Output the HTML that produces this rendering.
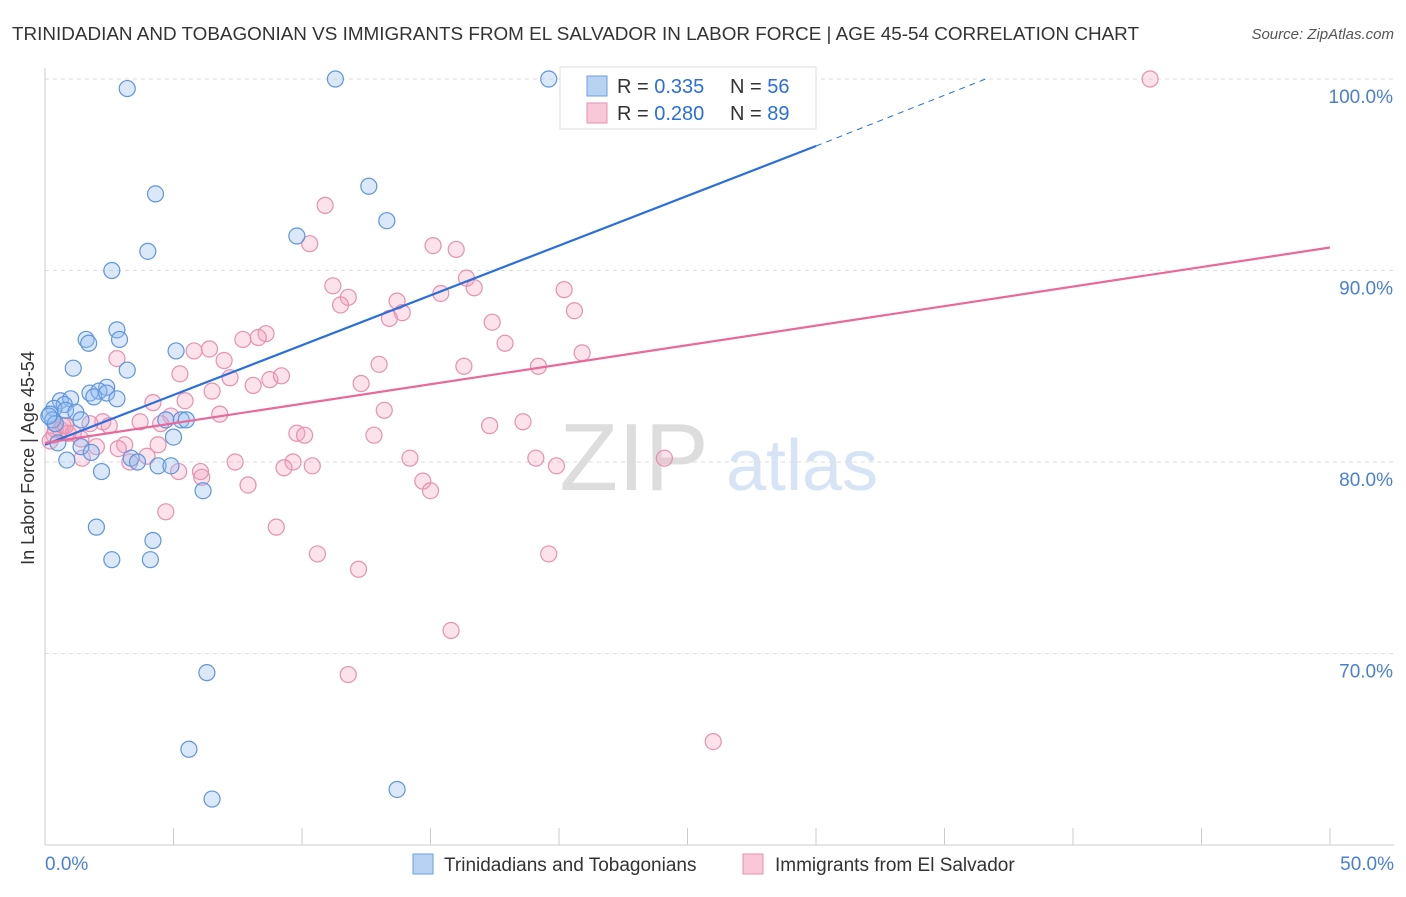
<!DOCTYPE html>
<html><head><meta charset="utf-8"><style>
body{margin:0;background:#fff;font-family:"Liberation Sans",sans-serif;}
svg text{font-family:"Liberation Sans",sans-serif;}
</style></head><body>
<svg id="c" width="1406" height="892" xmlns="http://www.w3.org/2000/svg">
<text x="12" y="40" font-size="18" fill="#333" textLength="1127" lengthAdjust="spacingAndGlyphs">TRINIDADIAN AND TOBAGONIAN VS IMMIGRANTS FROM EL SALVADOR IN LABOR FORCE | AGE 45-54 CORRELATION CHART</text>
<text x="1394" y="39" font-size="15" fill="#555" font-style="italic" text-anchor="end">Source: ZipAtlas.com</text>
<text x="634" y="490" font-size="96" fill="#ddd" font-family="Liberation Serif" text-anchor="middle">ZIP</text>
<text x="802" y="490" font-size="72" fill="#d6e4f5" text-anchor="middle">atlas</text>
<g id="grid"></g><g id="axes"></g><g id="pts"></g><g id="lines"></g>
<text x="34" y="458" font-size="18" fill="#333" text-anchor="middle" transform="rotate(-90 34 458)">In Labor Force | Age 45-54</text>
<text x="45" y="870" font-size="19" fill="#4a7fd6">0.0%</text>
<text x="1394" y="870" font-size="19" fill="#4a7fd6" text-anchor="end">50.0%</text>
<g>
<rect x="560" y="67" width="256" height="62" fill="#fff" stroke="#ddd"/>
<rect x="587" y="76" width="20" height="20" fill="#b8d2f4" stroke="#6a9fe0"/>
<text x="617" y="93" font-size="20" fill="#333">R = <tspan fill="#2a6fdb">0.335</tspan></text>
<text x="730" y="93" font-size="20" fill="#333">N = <tspan fill="#2a6fdb">56</tspan></text>
<rect x="587" y="103" width="20" height="20" fill="#f8c8d8" stroke="#e890b0"/>
<text x="617" y="120" font-size="20" fill="#333">R = <tspan fill="#2a6fdb">0.280</tspan></text>
<text x="730" y="120" font-size="20" fill="#333">N = <tspan fill="#2a6fdb">89</tspan></text>
</g>
<g>
<rect x="413" y="854" width="20" height="20" fill="#b8d2f4" stroke="#6a9fe0"/>
<text x="444" y="871" font-size="19" fill="#333">Trinidadians and Tobagonians</text>
<rect x="743" y="854" width="20" height="20" fill="#f8c8d8" stroke="#e890b0"/>
<text x="775" y="871" font-size="19" fill="#333">Immigrants from El Salvador</text>
</g>
</svg>
<script>
const yTicks=[100,90,80,70];
const xTicks=[0,5,10,15,20,25,30,35,40,45,50];
const blueX=[3.2,11.3,19.6,4.3,12.6,13.3,9.8,4.0,2.6,1.6,1.7,2.8,2.9,5.1,1.1,3.2,2.4,1.75,2.1,1.9,2.4,2.8,0.6,1.0,0.75,0.35,0.8,1.2,0.2,0.3,0.4,1.4,4.7,5.3,5.5,5.0,0.5,1.4,1.8,0.85,3.35,3.6,4.4,4.9,2.2,6.15,2.0,4.2,2.6,4.1,6.3,5.6,6.5,13.7,28.2,0.15];
const blueY=[99.5,100,100,94.0,94.4,92.6,91.8,91.0,90.0,86.4,86.2,86.9,86.4,85.8,84.9,84.8,83.9,83.6,83.7,83.4,83.6,83.3,83.2,83.3,83.0,82.8,82.7,82.6,82.5,82.2,82.0,82.2,82.2,82.2,82.2,81.3,81.0,80.8,80.5,80.1,80.2,80.0,79.8,79.8,79.5,78.5,76.6,75.9,74.9,74.9,69.0,65.0,62.4,62.9,100,82.4];
const pinkX=[43.0,10.9,10.3,15.1,16.0,16.4,16.7,11.2,11.8,11.5,13.7,13.9,13.4,15.4,20.2,20.6,17.4,17.9,20.9,8.6,8.3,7.7,6.4,5.8,6.97,2.8,5.25,7.2,8.75,9.2,6.5,8.1,12.3,13.0,16.3,19.2,4.2,5.45,6.8,4.9,2.25,2.5,3.7,4.5,13.2,18.6,17.3,9.8,10.1,12.8,0.6,0.9,0.35,1.4,2.0,3.1,4.4,2.85,3.97,1.45,5.2,6.05,6.1,7.4,9.65,9.3,10.4,14.2,19.1,19.9,24.1,14.7,15.0,7.9,4.7,9.0,10.6,19.6,12.2,15.8,11.8,26.0,0.4,0.7,1.75,3.3,0.2,1.1,0.8];
const pinkY=[100,93.4,91.4,91.3,91.1,89.6,89.1,89.2,88.6,88.2,88.4,87.8,87.5,88.8,89.0,87.9,87.3,86.2,85.7,86.7,86.5,86.4,85.9,85.8,85.3,85.4,84.6,84.4,84.3,84.5,83.7,84.0,84.1,85.1,85.0,85.0,83.1,83.2,82.5,82.4,82.1,81.9,82.1,82.0,82.7,82.1,81.9,81.5,81.4,81.4,81.7,81.5,81.4,81.2,80.8,80.9,80.9,80.7,80.3,80.2,79.5,79.5,79.2,80.0,80.0,79.7,79.8,80.2,80.2,79.8,80.2,79.0,78.5,78.8,77.4,76.6,75.2,75.2,74.4,71.2,68.9,65.4,81.7,81.9,82.0,80.0,81.1,81.5,81.9];
const blueLine=[[0,80.9],[30,96.5]], blueDash=[[30,96.5],[36.6,100]];
const pinkLine=[[0,81.0],[50,91.2]];
const NS='http://www.w3.org/2000/svg';
const X=v=>45+v/50*1285, Y=v=>79+(100-v)/10*191.5;
function mk(t,a,p){const e=document.createElementNS(NS,t);for(const k in a)e.setAttribute(k,a[k]);document.getElementById(p).appendChild(e);return e;}
yTicks.forEach(t=>{
 const l=mk('line',{x1:45,x2:1394,y1:Y(t),y2:Y(t),stroke:'#ddd','stroke-dasharray':'4 4'},'grid');
 
 
 const tx=mk('text',{x:1393,y:Y(t)+24,'font-size':19,fill:'#4a7fd6','text-anchor':'end'},'grid');tx.textContent=t.toFixed(1)+'%';
 
 
});
const ax=mk('line',{x1:45,x2:45,y1:68,y2:845,stroke:'#ccc'},'axes');


const bx=mk('line',{x1:45,x2:1394,y1:845,y2:845,stroke:'#ccc'},'axes');


xTicks.forEach(t=>{const l=mk('line',{x1:X(t),x2:X(t),y1:828,y2:845,stroke:'#ccc'},'axes');
 
 });
pinkX.forEach((v,i)=>{const c=mk('circle',{cx:X(v),cy:Y(pinkY[i]),r:8,fill:'rgba(242,160,190,0.3)',stroke:'#e890b0','stroke-width':1.2},'pts');
 
 });
blueX.forEach((v,i)=>{const c=mk('circle',{cx:X(v),cy:Y(blueY[i]),r:8,fill:'rgba(150,190,240,0.35)',stroke:'#5f95dd','stroke-width':1.2},'pts');
 
 });
const b=mk('line',{x1:X(blueLine[0][0]),y1:Y(blueLine[0][1]),x2:X(blueLine[1][0]),y2:Y(blueLine[1][1]),stroke:'#2a6fdb','stroke-width':2.2},'lines');


const bd=mk('line',{x1:X(blueDash[0][0]),y1:Y(blueDash[0][1]),x2:X(blueDash[1][0]),y2:Y(blueDash[1][1]),stroke:'#2a6fdb','stroke-width':1,'stroke-dasharray':'6 5'},'lines');


const p=mk('line',{x1:X(pinkLine[0][0]),y1:Y(pinkLine[0][1]),x2:X(pinkLine[1][0]),y2:Y(pinkLine[1][1]),stroke:'#e8699a','stroke-width':2.2},'lines');


</script>
</body></html>
